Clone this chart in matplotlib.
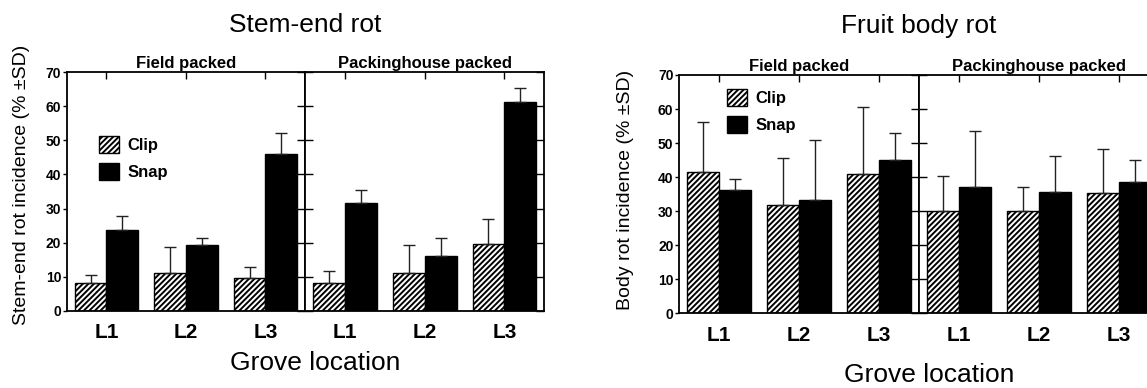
import matplotlib
matplotlib.use("Agg")
import matplotlib.pyplot as plt
import numpy as np
from matplotlib.transforms import offset_copy

plt.rcParams['font.family'] = ['Liberation Sans', 'DejaVu Sans']
plt.rcParams['hatch.linewidth'] = 1.4

# ---------------- data ----------------
locations = ["L1", "L2", "L3"]
panels = ["Field packed", "Packinghouse packed"]
series = ["Clip", "Snap"]

stem_field_clip = [8.0, 11.1, 9.6]
stem_field_clip_sd = [2.5, 7.7, 3.3]
stem_field_snap = [23.8, 19.2, 46.1]
stem_field_snap_sd = [4.0, 2.1, 6.2]
stem_pack_clip = [8.0, 11.1, 19.6]
stem_pack_clip_sd = [3.7, 8.1, 7.2]
stem_pack_snap = [31.5, 16.0, 61.2]
stem_pack_snap_sd = [3.9, 5.3, 4.2]

body_field_clip = [41.6, 31.8, 41.0]
body_field_clip_sd = [14.5, 13.7, 19.6]
body_field_snap = [36.1, 33.3, 44.9]
body_field_snap_sd = [3.3, 17.5, 8.2]
body_pack_clip = [30.1, 30.1, 35.3]
body_pack_clip_sd = [10.2, 7.1, 13.1]
body_pack_snap = [37.2, 35.5, 38.6]
body_pack_snap_sd = [16.3, 10.8, 6.4]

yticks = [0, 10, 20, 30, 40, 50, 60, 70]

W, H = 1147, 388
fig = plt.figure(figsize=(W / 100, H / 100), dpi=100)


def fx(px):
    return px / W


def fy(py):
    return 1 - py / H


def draw_panel(ax, clip, clip_sd, snap, snap_sd, first):
    x = np.arange(len(locations)) + 0.5
    bw = 0.4
    ax.bar(x - bw / 2, clip, bw, color='white', edgecolor='black',
           hatch='//////', linewidth=1.0, label=series[0], zorder=2)
    ax.bar(x + bw / 2, snap, bw, color='black', edgecolor='black',
           linewidth=1.0, label=series[1], zorder=2)
    ax.errorbar(x - bw / 2, clip, yerr=[np.zeros(3), clip_sd], fmt='none',
                ecolor='#222222', elinewidth=1.0, capsize=4, capthick=1.0, zorder=3)
    ax.errorbar(x + bw / 2, snap, yerr=[np.zeros(3), snap_sd], fmt='none',
                ecolor='#222222', elinewidth=1.0, capsize=4, capthick=1.0, zorder=3)
    ax.set_xlim(0, 3)
    ax.set_ylim(0, 70)
    ax.set_xticks(x)
    ax.set_xticklabels(locations, fontsize=15, fontweight='bold')
    ax.tick_params(axis='x', bottom=False, top=True, direction='in',
                   length=5, width=1.0, pad=9)
    ax.set_yticks(yticks)
    for s in ax.spines.values():
        s.set_linewidth(1.3)
    if first:
        ax.spines['right'].set_visible(False)
        ax.tick_params(axis='y', left=True, right=False, direction='out',
                       length=3, width=1.0, pad=1, labelsize=10)
        for lab in ax.get_yticklabels():
            lab.set_fontweight('bold')
        sec = ax.secondary_yaxis('right')
        sec.set_yticks(yticks)
        sec.tick_params(direction='in', length=6, width=1.0, labelright=False)
        sec.spines['right'].set_linewidth(1.3)
    else:
        ax.tick_params(axis='y', left=True, right=True, direction='in',
                       length=6, width=1.0, labelleft=False)


def chart(x0, xdiv, xright, ytop, ybot, data, title, ylabel, title_base,
          grove_base, ylab_x, ylab_y, leg_xy):
    ax1 = fig.add_axes([fx(x0), fy(ybot), fx(xdiv - x0), (ybot - ytop) / H])
    ax2 = fig.add_axes([fx(xdiv), fy(ybot), fx(xright - xdiv), (ybot - ytop) / H])
    draw_panel(ax1, *data[0], first=True)
    draw_panel(ax2, *data[1], first=False)
    for ax, name in ((ax1, panels[0]), (ax2, panels[1])):
        tr = offset_copy(ax.transAxes, fig=fig, x=0, y=4, units='dots')
        ax.text(0.5, 1.0, name, transform=tr, ha='center',
                va='baseline', fontsize=12, fontweight='bold')
    cx = (x0 + xright) / 2
    fig.text(fx(cx), fy(title_base), title, ha='center', va='baseline', fontsize=19)
    fig.text(fx(cx + 10), fy(grove_base), "Grove location", ha='center',
             va='baseline', fontsize=19)
    fig.text(fx(ylab_x), fy(ylab_y), ylabel, rotation=90, ha='center',
             va='center', fontsize=14)
    ax1.legend(loc='upper left', bbox_to_anchor=(fx(leg_xy[0]), fy(leg_xy[1])),
               bbox_transform=fig.transFigure, frameon=False, borderpad=0,
               borderaxespad=0, handlelength=1.2, handleheight=1.2,
               labelspacing=0.6, handletextpad=0.5,
               prop={'size': 12, 'weight': 'bold'})
    return ax1, ax2


chart(66.7, 305.2, 544.2, 72.3, 310.7,
      [(stem_field_clip, stem_field_clip_sd, stem_field_snap, stem_field_snap_sd),
       (stem_pack_clip, stem_pack_clip_sd, stem_pack_snap, stem_pack_snap_sd)],
      "Stem-end rot", "Stem-end rot incidence (% \u00b1SD)", 32, 370, 22, 185,
      (99, 136))

chart(679, 919, 1159, 75, 313.3,
      [(body_field_clip, body_field_clip_sd, body_field_snap, body_field_snap_sd),
       (body_pack_clip, body_pack_clip_sd, body_pack_snap, body_pack_snap_sd)],
      "Fruit body rot", "Body rot incidence (% \u00b1SD)", 33, 382, 625, 190,
      (727, 89))

fig.savefig("out.png", dpi=100)
